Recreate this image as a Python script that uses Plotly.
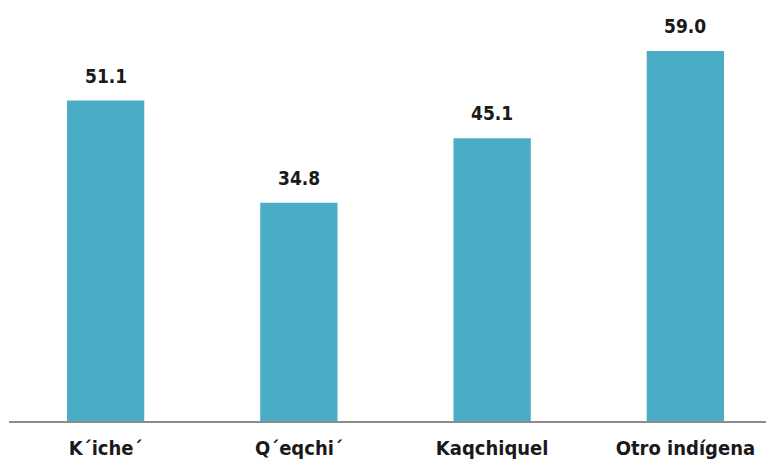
import plotly.graph_objects as go

categories = ["K´iche´", "Q´eqchi´", "Kaqchiquel", "Otro indígena"]
values = [51.1, 34.8, 45.1, 59.0]
value_labels = ["51.1", "34.8", "45.1", "59.0"]

FONT = "DejaVu Sans Condensed"
BAR_COLOR = "#4BACC6"

fig = go.Figure()

fig.add_trace(
    go.Bar(
        x=list(range(len(categories))),
        y=values,
        marker=dict(color=BAR_COLOR, line=dict(width=0)),
        showlegend=False,
        hoverinfo="skip",
    )
)

# value labels above the bars
for i, (v, lab) in enumerate(zip(values, value_labels)):
    fig.add_annotation(
        x=i, y=v, text=lab, showarrow=False,
        yanchor="bottom", yshift=12,
        font=dict(family=FONT, size=19, color="#1a1a1a", weight="bold"),
    )

# page body adds ~8px offset, margins compensate
fig.update_layout(
    width=774,
    height=461,
    margin=dict(l=1, r=0, t=0, b=48),
    paper_bgcolor="white",
    plot_bgcolor="white",
    bargap=0.6,
    xaxis=dict(
        tickmode="array",
        tickvals=list(range(len(categories))),
        ticktext=categories,
        range=[-0.5, 3.5],
        showgrid=False,
        zeroline=False,
        showline=True,
        linecolor="#8c8c8c",
        linewidth=1.5,
        ticks="",
        ticklabelstandoff=8,
        tickfont=dict(family=FONT, size=20, color="#1a1a1a", weight="bold"),
    ),
    yaxis=dict(
        range=[0, 65.86],
        visible=False,
        showgrid=False,
        zeroline=False,
    ),
)

fig.write_html("out.html")
